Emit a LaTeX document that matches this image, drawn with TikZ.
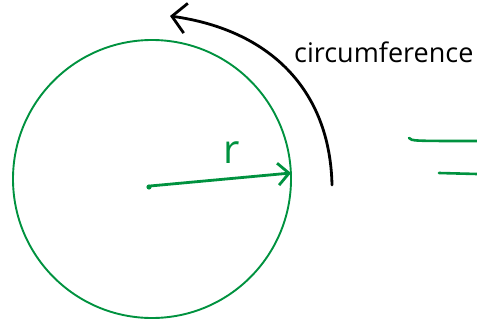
\documentclass[tikz,border=0pt]{standalone}
\usepackage{fontspec}
\setmainfont{Open Sans}
\usetikzlibrary{arrows.meta}
\definecolor{pen}{RGB}{0,146,63}
\tikzset{
  greenline/.style={draw=pen, line width=2.6pt, line cap=round},
  radarrow/.style={draw=pen, line width=2.8pt, line cap=round, -{Straight Barb[length=11pt,width=22pt,line width=2.8pt]}},
  blackarrow/.style={draw=black, line width=2.8pt, line cap=round, -{Straight Barb[length=14pt,width=30pt,line width=2.8pt]}},
  lbl/.style={inner sep=0pt},
}
\begin{document}
\begin{tikzpicture}[x=1pt,y=-1pt]
\useasboundingbox (0,0) rectangle (477,321);
% circle
\node[lbl, draw=pen, line width=1.9pt, circle, minimum size=278pt] (circ) at (152,179) {};
% centre dot
\fill[pen] (149,187) circle (2.6pt);
\coordinate (ctr) at (150,186);
\coordinate (edge) at (291,173);
\draw[radarrow] (ctr) -- (edge);
\node[lbl, text=pen, font=\fontsize{40}{40}\selectfont] (r) at (232,153) {r};
% circumference arrow
\coordinate (arcstart) at (332,185);
\coordinate (arcend) at (170,16);
\draw[blackarrow] (arcstart) .. controls (330,90) and (270,30) .. (arcend);
\node[lbl, font=\fontsize{27}{27}\selectfont, anchor=west] (circtext) at (294,52) {circumference};
% equals sign (cropped)
\coordinate (e1a) at (409,138);
\coordinate (e1b) at (477,141);
\coordinate (e2a) at (439,173);
\coordinate (e2b) at (477,174);
\draw[greenline] (e1a) .. controls (412,141) .. (e1b);
\draw[greenline] (e2a) -- (e2b);
\end{tikzpicture}
\end{document}
